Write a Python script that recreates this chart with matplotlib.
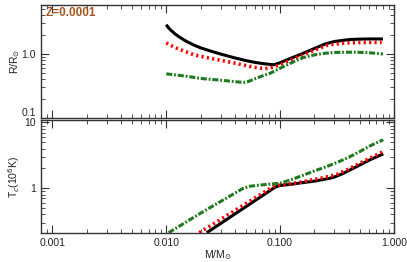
import numpy as np
import matplotlib
matplotlib.use("Agg")
import matplotlib.pyplot as plt
from matplotlib.ticker import FixedLocator, FixedFormatter, LogLocator, NullFormatter

plt.rcParams['font.family'] = ['Liberation Sans', 'DejaVu Sans']

#---------------------------
# Données
#---------------------------

# Rayon R/Rsun
m_r_black = [0.010, 0.0105, 0.011, 0.012, 0.013, 0.015, 0.0175, 0.020, 0.025, 0.030, 0.040,
             0.050, 0.060, 0.070, 0.080, 0.088, 0.100, 0.120, 0.150, 0.200, 0.250, 0.300,
             0.400, 0.500, 0.600, 0.800]
r_black = [2.88, 2.55, 2.35, 2.05, 1.85, 1.58, 1.38, 1.25, 1.10, 1.00, 0.87,
           0.79, 0.74, 0.71, 0.69, 0.68, 0.73, 0.84, 0.98, 1.22, 1.44, 1.57,
           1.68, 1.71, 1.72, 1.72]

m_r_red = [0.010, 0.011, 0.0125, 0.015, 0.0174, 0.020, 0.025, 0.030, 0.034, 0.040, 0.050,
           0.060, 0.0668, 0.074, 0.085, 0.100, 0.120, 0.160, 0.200, 0.257, 0.300, 0.385,
           0.500, 0.780]
r_red = [1.49, 1.36, 1.22, 1.08, 0.975, 0.92, 0.85, 0.80, 0.765, 0.72, 0.66,
         0.62, 0.603, 0.59, 0.62, 0.68, 0.79, 0.975, 1.15, 1.36, 1.43, 1.49,
         1.51, 1.52]

m_r_green = [0.010, 0.015, 0.020, 0.030, 0.040, 0.0476, 0.0527, 0.060, 0.070, 0.0817, 0.100,
             0.120, 0.140, 0.160, 0.200, 0.250, 0.314, 0.440, 0.600, 0.800]
r_green = [0.49, 0.45, 0.415, 0.39, 0.37, 0.36, 0.372, 0.41, 0.455, 0.50, 0.60,
           0.70, 0.80, 0.88, 0.97, 1.03, 1.06, 1.07, 1.05, 1.00]

# Température centrale Tc (10^6 K)
m_t_black = [0.0227, 0.0904, 0.100, 0.122, 0.150, 0.200, 0.275, 0.300, 0.350, 0.400,
             0.500, 0.600, 0.700, 0.805]
t_black = [0.21, 1.035, 1.10, 1.14, 1.20, 1.28, 1.42, 1.48, 1.65, 1.85,
           2.25, 2.65, 3.00, 3.33]

m_t_red = [0.0195, 0.087, 0.100, 0.130, 0.160, 0.200, 0.250, 0.314, 0.400, 0.500,
           0.600, 0.700, 0.805]
t_red = [0.21, 1.06, 1.12, 1.18, 1.26, 1.36, 1.47, 1.62, 1.95, 2.40,
         2.80, 3.20, 3.62]

m_t_green = [0.0105, 0.020, 0.0476, 0.0545, 0.065, 0.080, 0.100, 0.130, 0.160, 0.200,
             0.250, 0.314, 0.400, 0.500, 0.600, 0.700, 0.805]
t_green = [0.21, 0.416, 1.00, 1.07, 1.11, 1.15, 1.19, 1.38, 1.58, 1.83,
           2.10, 2.45, 2.95, 3.60, 4.30, 4.90, 5.45]

x_ticks = [0.001, 0.01, 0.1, 1.0]
x_labels = ["0.001", "0.010", "0.100", "1.000"]

#---------------------------
# Figure
#---------------------------

fig = plt.figure(figsize=(4.07, 2.62), dpi=100)
W, H = 407, 262
ax1 = fig.add_axes([40.7 / W, 1 - 118 / H, (394 - 40.7) / W, (118 - 4.7) / H])
ax2 = fig.add_axes([40.7 / W, 1 - 232.7 / H, (394 - 40.7) / W, (232.7 - 120.3) / H])

red_style = dict(color="red", lw=2.6, linestyle=(0, (0.6, 0.9)), dash_capstyle="butt")
green_style = dict(color="#1f7a1f", lw=2.2, linestyle=(0, (2.0, 0.6, 0.6, 0.6)))

ax1.plot(m_r_black, r_black, color="black", lw=2.2, solid_capstyle="butt")
ax1.plot(m_r_red, r_red, **red_style)
ax1.plot(m_r_green, r_green, **green_style)

ax2.plot(m_t_black, t_black, color="black", lw=2.2, solid_capstyle="butt")
ax2.plot(m_t_red, t_red, **red_style)
ax2.plot(m_t_green, t_green, **green_style)

for ax in (ax1, ax2):
    ax.set_xscale("log")
    ax.set_yscale("log")
    ax.set_xlim(0.00079, 1.0)
    ax.xaxis.set_major_locator(FixedLocator(x_ticks))
    ax.xaxis.set_minor_locator(LogLocator(base=10, subs=np.arange(2, 10)))
    ax.tick_params(which="both", direction="in", top=True, right=True,
                   labelsize=7.5, color="#333333", labelcolor="#222222")
    ax.tick_params(which="major", length=6, width=0.8)
    ax.tick_params(which="minor", length=3, width=0.6)
    ax.yaxis.set_minor_formatter(NullFormatter())
    ax.xaxis.set_minor_formatter(NullFormatter())
    for s in ax.spines.values():
        s.set_linewidth(1.0)
        s.set_color("#333333")

ax1.set_ylim(0.1, 5.9)
ax1.yaxis.set_major_locator(FixedLocator([0.1, 1.0]))
ax1.yaxis.set_major_formatter(FixedFormatter(["0.1", "1.0"]))
ax1.xaxis.set_major_formatter(NullFormatter())
ax1.set_ylabel(r"R/R$_{\odot}$", fontsize=7.5, color="#222222")
ax1.yaxis.set_label_coords(-0.052, 0.5)
ax1.text(0.013, 0.93, "Z=0.0001", transform=ax1.transAxes, color="#a4571f",
         fontsize=8.5, fontweight="bold", va="center", ha="left")
# petit décalage vers le haut du label "0.1" pour ne pas toucher le "10"
for lab in ax1.get_yticklabels():
    if lab.get_text() == "0.1":
        lab.set_verticalalignment("bottom")

ax2.set_ylim(0.21, 10.8)
ax2.yaxis.set_major_locator(FixedLocator([1, 10]))
ax2.yaxis.set_major_formatter(FixedFormatter(["1", "10"]))
ax2.xaxis.set_major_formatter(FixedFormatter(x_labels))
ax2.set_ylabel(r"T$_c$(10$^6$K)", fontsize=7.5, color="#222222")
ax2.yaxis.set_label_coords(-0.052, 0.5)
ax2.set_xlabel(r"M/M$_{\odot}$", fontsize=7.5, color="#222222")
ax2.xaxis.set_label_coords(0.5, -0.14)

fig.savefig("out.png", dpi=100)
